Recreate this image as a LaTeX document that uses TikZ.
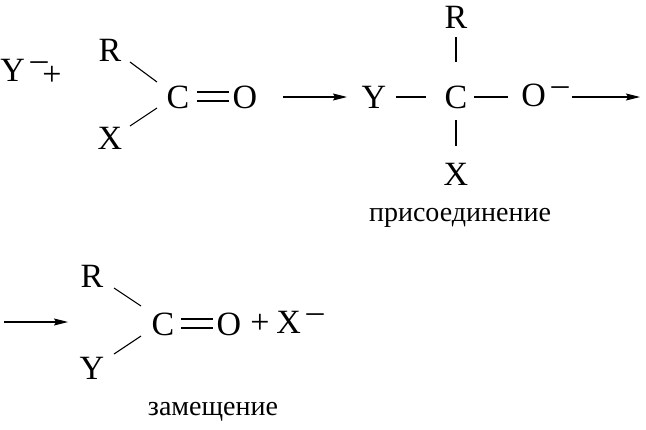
\documentclass[tikz,border=0pt]{standalone}
\usepackage{fontspec}
\setmainfont{Liberation Serif}
\usetikzlibrary{arrows.meta}
\newcommand{\ionminus}{\raisebox{11pt}{\,--}}
\tikzset{atom/.style={font=\fontsize{34}{38}\selectfont,inner sep=2pt},
  word/.style={font=\fontsize{28}{32}\selectfont},
  bond/.style={line width=1.1pt},
  rarrow/.style={line width=1.1pt,-{Stealth[length=14pt,width=7pt,inset=2pt]}}}
\begin{document}
\begin{tikzpicture}[x=1pt,y=-1pt]
\useasboundingbox (0,0) rectangle (646,429);
% first step
\node[atom] (Y1) at (24,70) {Y\ionminus};
\node[atom] (p1) at (52,76) {+};
\node[atom] (R1) at (110,50) {R};
\node[atom] (X1) at (110,138) {X};
\node[atom] (C1) at (178,97) {C};
\node[atom] (O1) at (245,97) {O};
\draw[bond] (130,62)--(157,82);
\draw[bond] (130,126)--(157,108);
\draw[bond] (197,92)--(229,92) (197,101)--(229,101);
\draw[rarrow] (283,97)--(347,97);
\node[atom] (Y2) at (374,97) {Y};
\node[atom] (C2) at (456,97) {C};
\node[atom] (O2) at (545,95) {O\ionminus};
\node[atom] (R2) at (456,17) {R};
\node[atom] (X2) at (456,174) {X};
\draw[bond] (396,97)--(426,97);
\draw[bond] (474,97)--(508,97);
\draw[bond] (456,37)--(456,62);
\draw[bond] (456,120)--(456,146);
\draw[rarrow] (572,97)--(640,97);
\node[word] (w1) at (460,218) {присоединение};
% second step
\draw[rarrow] (4,322)--(68,322);
\node[atom] (R3) at (92,276) {R};
\node[atom] (Y3) at (92,368) {Y};
\node[atom] (C3) at (163,324) {C};
\node[atom] (O3) at (229,324) {O};
\draw[bond] (114,288)--(141,306);
\draw[bond] (114,354)--(141,336);
\draw[bond] (181,319)--(213,319) (181,328)--(213,328);
\node[atom] (p3) at (260,324) {+};
\node[atom] (X3) at (300,322) {X\ionminus};
\node[word] (w2) at (213,412) {замещение};
\end{tikzpicture}
\end{document}
